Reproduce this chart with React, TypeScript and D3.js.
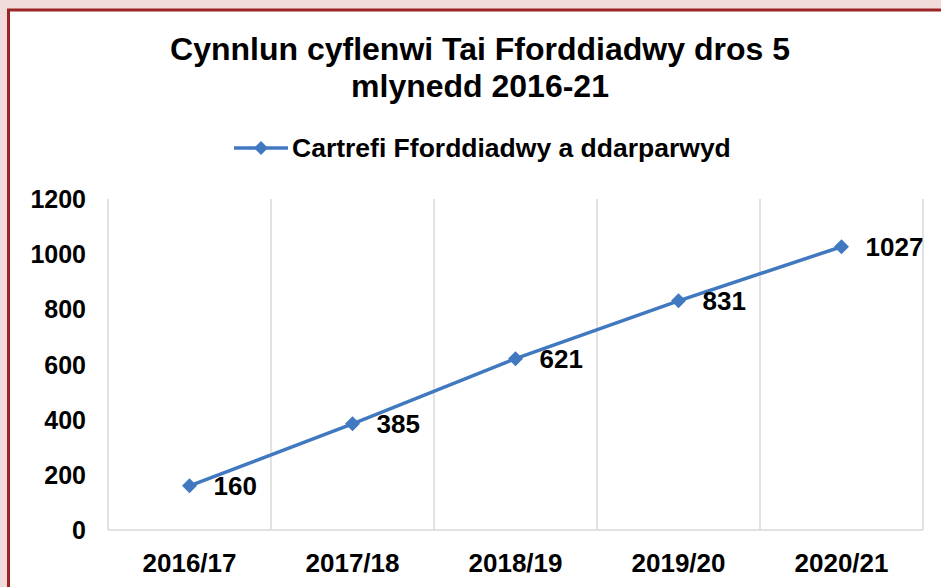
import React from "react";
import * as d3 from "d3";

const categories = ["2016/17", "2017/18", "2018/19", "2019/20", "2020/21"];
const values = [160, 385, 621, 831, 1027];
const yTicks = [0, 200, 400, 600, 800, 1000, 1200];
const titleLines = ["Cynnlun cyflenwi Tai Fforddiadwy dros 5", "mlynedd 2016-21"];
const seriesName = "Cartrefi Fforddiadwy a ddarparwyd";

const W = 941;
const H = 587;
const plot = { left: 108, right: 923, top: 199, bottom: 530 };
const FONT = "'Liberation Sans', Arial, sans-serif";
const BLUE = "#4079c0";

export default function App() {
  const x = d3.scaleBand<string>().domain(categories).range([plot.left, plot.right]);
  const y = d3.scaleLinear().domain([0, 1200]).range([plot.bottom, plot.top]);
  const line = d3
    .line<number>()
    .x((_, i) => (x(categories[i]) as number) + x.bandwidth() / 2)
    .y((d) => y(d));
  const diamond = (cx: number, cy: number, r: number) =>
    `M${cx},${cy - r}L${cx + r},${cy}L${cx},${cy + r}L${cx - r},${cy}Z`;
  const gridX = [...categories.map((c) => x(c) as number), plot.right];

  return (
    <div style={{ position: "fixed", left: 0, top: 0, width: W, height: H }}>
      <svg width={W} height={H} style={{ display: "block" }} fontFamily={FONT}>
        <rect x={0} y={0} width={W} height={H} fill="#f2dbdb" />
        <rect x={8.5} y={10} width={W + 10} height={H + 10} fill="#ffffff" stroke="#9b2424" strokeWidth={3} />
        {titleLines.map((t, i) => (
          <text key={i} x={480} y={60 + i * 37} textAnchor="middle" fontSize={32} fontWeight="bold" fill="#000">
            {t}
          </text>
        ))}
        <g>
          <line x1={234} x2={288} y1={148} y2={148} stroke={BLUE} strokeWidth={3.5} />
          <path d={diamond(261, 148, 7)} fill={BLUE} />
          <text x={292} y={157} fontSize={26.5} fontWeight="bold" fill="#000">
            {seriesName}
          </text>
        </g>
        {gridX.map((gx, i) => (
          <line key={i} x1={gx} x2={gx} y1={plot.top} y2={plot.bottom} stroke="#d9d9d9" strokeWidth={1.5} />
        ))}
        <line x1={plot.left} x2={plot.right} y1={plot.bottom} y2={plot.bottom} stroke="#d9d9d9" strokeWidth={1.5} />
        {yTicks.map((t) => (
          <text key={t} x={86} y={y(t) + 9} textAnchor="end" fontSize={25} fontWeight="bold" fill="#000">
            {t}
          </text>
        ))}
        {categories.map((c) => (
          <text key={c} x={(x(c) as number) + x.bandwidth() / 2} y={572} textAnchor="middle" fontSize={26} fontWeight="bold" fill="#000">
            {c}
          </text>
        ))}
        <path d={line(values) || ""} fill="none" stroke={BLUE} strokeWidth={3.5} strokeLinejoin="round" />
        {values.map((v, i) => {
          const cx = (x(categories[i]) as number) + x.bandwidth() / 2;
          const cy = y(v);
          return (
            <g key={i}>
              <path d={diamond(cx, cy, 7.5)} fill={BLUE} />
              <text x={cx + 24} y={cy + 9.5} fontSize={26} fontWeight="bold" fill="#000">
                {v}
              </text>
            </g>
          );
        })}
      </svg>
    </div>
  );
}
